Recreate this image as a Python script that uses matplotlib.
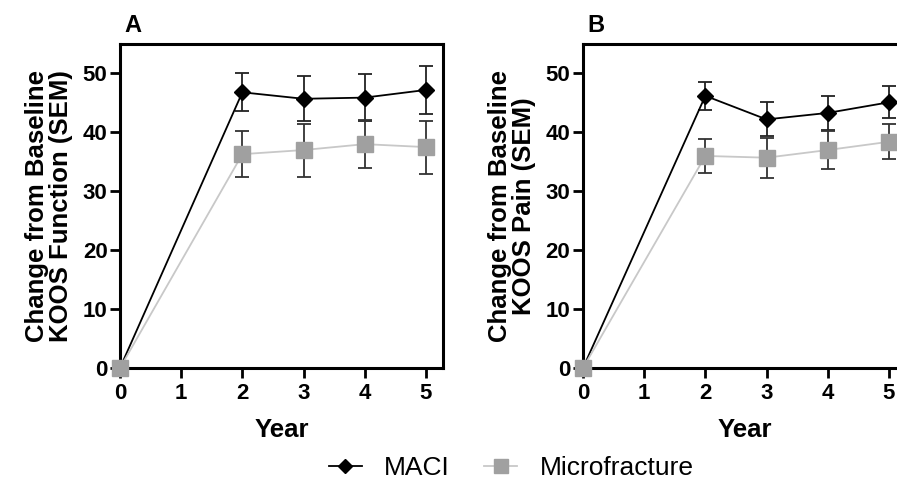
import numpy as np
import matplotlib.pyplot as plt
from matplotlib.lines import Line2D

plt.rcParams['font.family'] = ['Liberation Sans', 'DejaVu Sans']

# Follow-up years
years = [0, 2, 3, 4, 5]

# Panel A: KOOS Function, change from baseline (mean, SEM)
func_maci = [0, 46.8, 45.7, 45.9, 47.2]
func_maci_sem = [0, 3.2, 3.8, 4.0, 4.0]
func_mfx = [0, 36.3, 37.0, 38.0, 37.5]
func_mfx_sem = [0, 3.9, 4.5, 4.1, 4.5]

# Panel B: KOOS Pain, change from baseline (mean, SEM)
pain_maci = [0, 46.2, 42.2, 43.3, 45.1]
pain_maci_sem = [0, 2.4, 2.9, 2.9, 2.7]
pain_mfx = [0, 36.0, 35.7, 37.0, 38.4]
pain_mfx_sem = [0, 2.9, 3.4, 3.3, 3.0]

panels = [
    ('A', 'Change from Baseline\nKOOS Function (SEM)', func_maci, func_maci_sem, func_mfx, func_mfx_sem),
    ('B', 'Change from Baseline\nKOOS Pain (SEM)', pain_maci, pain_maci_sem, pain_mfx, pain_mfx_sem),
]

MACI_COL = 'black'
MFX_LINE = '#c8c8c8'
MFX_MARK = '#a0a0a0'

W, H = 897, 479
fig = plt.figure(figsize=(W / 100, H / 100), dpi=100)
lefts = [120, 583]

for left, (tag, ylab, maci, maci_sem, mfx, mfx_sem) in zip(lefts, panels):
    ax = fig.add_axes([left / W, (H - 368) / H, 323 / W, 324 / H])

    ax.errorbar(years, maci, yerr=maci_sem, color=MACI_COL, lw=1.3,
                marker='D', ms=8, mfc=MACI_COL, mec=MACI_COL,
                ecolor='#222222', elinewidth=1.3, capsize=5, capthick=1.3,
                clip_on=False, zorder=3)
    ax.errorbar(years, mfx, yerr=mfx_sem, color=MFX_LINE, lw=1.3,
                marker='s', ms=11, mfc=MFX_MARK, mec=MFX_MARK,
                ecolor='#333333', elinewidth=1.3, capsize=5, capthick=1.3,
                clip_on=False, zorder=4)

    ax.set_xlim(0, 5.28)
    ax.set_ylim(0, 55)
    ax.set_xticks([0, 1, 2, 3, 4, 5])
    ax.set_yticks([0, 10, 20, 30, 40, 50])
    for s in ax.spines.values():
        s.set_linewidth(2.2)
    ax.tick_params(direction='out', length=7, width=2, labelsize=16, pad=2)
    ax.tick_params(axis='x', pad=4)
    for lbl in ax.get_xticklabels() + ax.get_yticklabels():
        lbl.set_fontweight('bold')

    ax.set_xlabel('Year', fontsize=18.5, fontweight='bold', labelpad=10)
    ax.set_ylabel(ylab, fontsize=18.5, fontweight='bold', labelpad=7,
                  linespacing=1.0)
    fig.text((left + 4) / W, 1 - 32 / H, tag, fontsize=17,
             fontweight='bold', ha='left', va='baseline')

handles = [
    Line2D([], [], color=MACI_COL, lw=1.3, marker='D', ms=7,
           mfc=MACI_COL, mec=MACI_COL),
    Line2D([], [], color=MFX_LINE, lw=1.3, marker='s', ms=10,
           mfc=MFX_MARK, mec=MFX_MARK),
]
fig.legend(handles, ['MACI', 'Microfracture'], loc='center',
           bbox_to_anchor=(0.570, 0.022), ncol=2, frameon=False,
           fontsize=19, handlelength=1.25, columnspacing=1.3,
           handletextpad=0.85, borderpad=0)

fig.savefig('out.png', dpi=100)
